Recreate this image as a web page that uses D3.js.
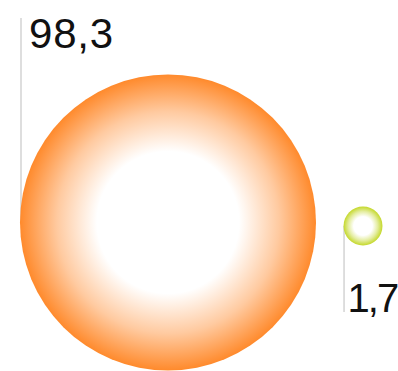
<!DOCTYPE html>
<html><head><meta charset="utf-8">
<script src="https://cdn.jsdelivr.net/npm/d3@7"></script>
<style>html,body{margin:0;padding:0;background:#fff;}svg{display:block;}</style>
</head><body>
<svg id="chart" width="398" height="371"></svg>
<script>
const categories = ["A", "B"];
const values = [98.3, 1.7];
const labels = ["98,3", "1,7"];
const colors = ["#ff8a2c", "#c4d82a"];

const svg = d3.select("#chart");
const r = d3.scaleSqrt().domain([0, d3.max(values)]).range([0, 148]);
const cx = d3.scaleOrdinal().domain(categories).range([168, 363]);
const cy = d3.scaleOrdinal().domain(categories).range([222.5, 226]);

const defs = svg.append("defs");
categories.forEach((c, i) => {
  const g = defs.append("radialGradient").attr("id", "g" + i)
    .attr("cx", "50%").attr("cy", "50%").attr("r", "50%");
  g.append("stop").attr("offset", "0%").attr("stop-color", "#fff");
  g.append("stop").attr("offset", "48%").attr("stop-color", "#fff");
  g.append("stop").attr("offset", "75%").attr("stop-color", d3.interpolateRgb("#fff", colors[i])(0.45));
  g.append("stop").attr("offset", "100%").attr("stop-color", colors[i]);
});

const data = categories.map((c, i) => ({c, v: values[i], label: labels[i], i}));

// leader lines
svg.selectAll("line.lead").data(data).join("line")
  .attr("class", "lead")
  .attr("x1", d => d.i === 0 ? cx(d.c) - r(d.v) + 1 : cx(d.c) - r(d.v) + 0.5)
  .attr("x2", d => d.i === 0 ? cx(d.c) - r(d.v) + 1 : cx(d.c) - r(d.v) + 0.5)
  .attr("y1", d => cy(d.c))
  .attr("y2", d => d.i === 0 ? 18 : 312)
  .attr("stroke", "#bdbdbd").attr("stroke-width", 1);

svg.selectAll("circle.bub").data(data).join("circle")
  .attr("class", "bub")
  .attr("cx", d => cx(d.c)).attr("cy", d => cy(d.c)).attr("r", d => r(d.v))
  .attr("fill", d => `url(#g${d.i})`);

svg.selectAll("text.lab").data(data).join("text")
  .attr("class", "lab")
  .attr("x", d => d.i === 0 ? cx(d.c) - r(d.v) + 9 : cx(d.c) - r(d.v) + 4)
  .attr("y", d => d.i === 0 ? 48 : 312)
  .attr("font-family", "'Liberation Sans', Arial, sans-serif")
  .attr("font-size", d => d.i === 0 ? 42 : 40)
  .attr("letter-spacing", d => d.i === 0 ? 0.8 : -2)
  .attr("fill", "#111")
  .text(d => d.label);
</script>
</body></html>
